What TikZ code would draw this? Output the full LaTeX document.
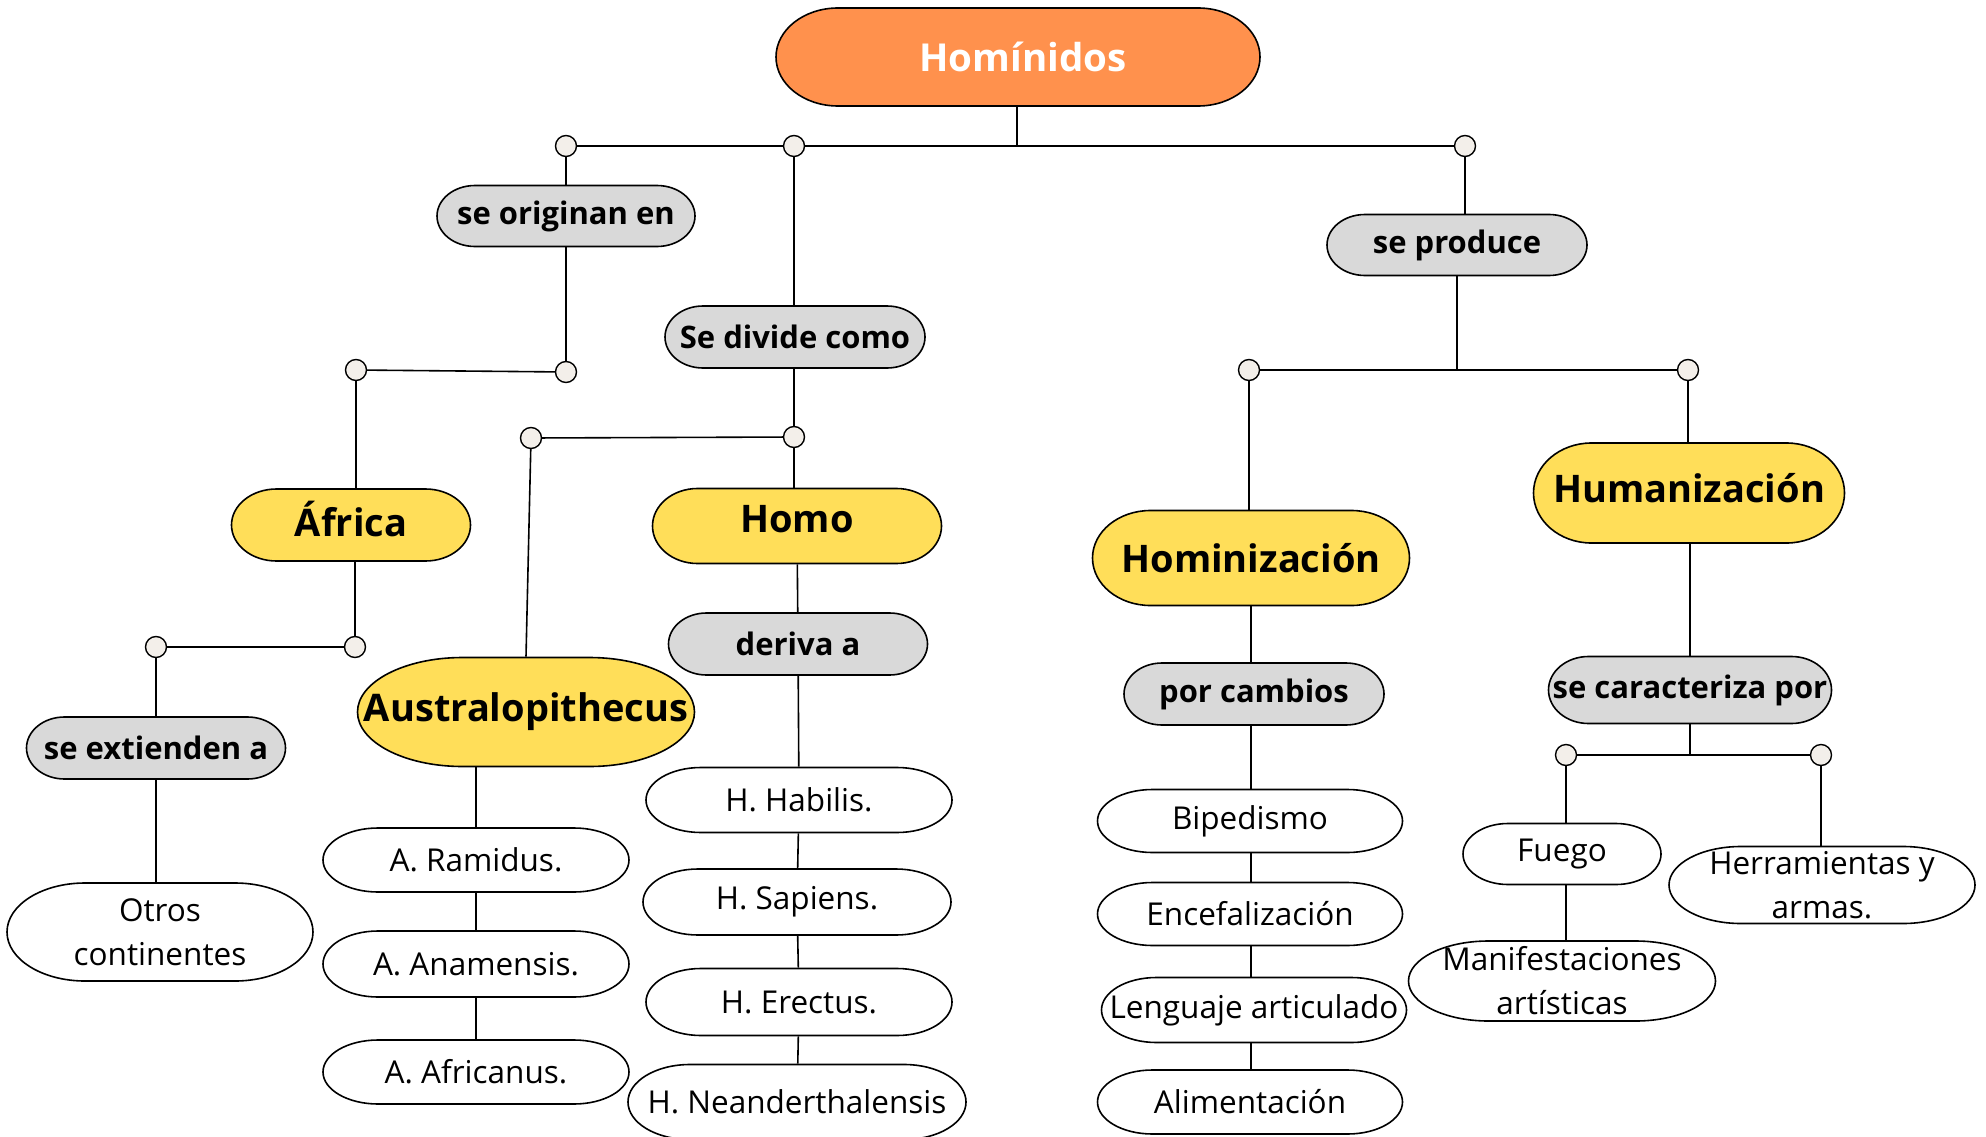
\documentclass[tikz,border=0pt]{standalone}
\usepackage{fontspec}
\setmainfont{Open Sans}
\definecolor{orng}{HTML}{FF914D}
\definecolor{yel}{HTML}{FFDE59}
\definecolor{lgr}{HTML}{D9D9D9}
\definecolor{dotc}{HTML}{F3EFEA}
\tikzset{
  ttl/.style={fill=orng, text=white, font=\fontsize{38.5}{46}\selectfont\bfseries},
  wht/.style={fill=white, font=\fontsize{31.5}{44}\selectfont},
  lab/.style={fill=lgr, font=\fontsize{31}{36}\selectfont\bfseries},
  yl/.style={fill=yel, font=\fontsize{38}{44}\selectfont\bfseries},
  dot/.style={circle, draw, fill=dotc, minimum size=21pt, inner sep=0pt, line width=1.4pt},
  conn/.style={line width=1.6pt}
}
% #1 name, #2 x, #3 y, #4 width, #5 height, #6 end radius, #7 style, #8 text
\newcommand\pillnode[8]{%
  \filldraw[#7] ({#2-#4/2},#3)
    arc[start angle=180,end angle=90,x radius=#6pt,y radius={#5*0.5pt}]
    -- ++({(#4-2*#6)*1pt},0pt)
    arc[start angle=90,end angle=0,x radius=#6pt,y radius={#5*0.5pt}]
    arc[start angle=0,end angle=-90,x radius=#6pt,y radius={#5*0.5pt}]
    -- ++({(2*#6-#4)*1pt},0pt)
    arc[start angle=-90,end angle=-180,x radius=#6pt,y radius={#5*0.5pt}]
    -- cycle;
  \node[#7, draw=none, fill=none, minimum width=#4pt, minimum height=#5pt, inner sep=0pt, align=center] (#1) at (#2,#3) {#8};
}
\begin{document}
\begin{tikzpicture}[x=1pt,y=-1pt,line width=1.6pt]
\useasboundingbox[fill=white] (0,0) rectangle (1986,1137);
% title
\pillnode{hom}{1018}{57}{484}{98}{62}{ttl}{\hspace*{10pt}Homínidos}
\coordinate (t0) at (1017,146);
% dots
\node[dot] (d1) at (566,146) {};
\node[dot] (d2) at (794,146) {};
\node[dot] (d3) at (1465,146) {};
\node[dot] (d4) at (566,372) {};
\node[dot] (d5) at (356,370) {};
\node[dot] (d6) at (355,647) {};
\node[dot] (d7) at (156,647) {};
\node[dot] (d8) at (794,437) {};
\node[dot] (d9) at (531,438) {};
\node[dot] (d10) at (1249,370) {};
\node[dot] (d11) at (1688,370) {};
\node[dot] (d12) at (1566,755) {};
\node[dot] (d13) at (1821,755) {};
% left branch
\pillnode{orig}{566}{216}{258}{61}{38}{lab}{se originan en}
\pillnode{afr}{351}{525}{239}{72}{45}{yl,text depth=12pt}{África}
\pillnode{ext}{156}{748}{259}{62}{38}{lab}{se extienden a}
\pillnode{otros}{160}{932}{306}{98}{78}{wht}{Otros\\continentes}
% middle branch
\pillnode{div}{795}{337}{260}{62}{38}{lab}{Se divide como}
\pillnode{homo}{797}{526}{289}{75}{45}{yl,text depth=14pt}{Homo}
\pillnode{aus}{526}{712}{337}{109}{105}{yl}{Australopithecus}
\pillnode{ram}{476}{860}{306}{64}{55}{wht}{A. Ramidus.}
\pillnode{ana}{476}{964}{306}{66}{55}{wht}{A. Anamensis.}
\pillnode{afc}{476}{1072}{306}{64}{55}{wht}{A. Africanus.}
\pillnode{der}{798}{644}{259}{62}{38}{lab}{deriva a}
\pillnode{hab}{799}{800}{306}{65}{55}{wht}{H. Habilis.}
\pillnode{sap}{797}{902}{308}{66}{55}{wht}{H. Sapiens.}
\pillnode{ere}{799}{1002}{306}{67}{55}{wht}{H. Erectus.}
\pillnode{nea}{797}{1102}{338}{75}{62}{wht}{H. Neanderthalensis}
% right branch
\pillnode{prod}{1457}{245}{260}{61}{38}{lab}{se produce}
\pillnode{homz}{1251}{558}{317}{95}{58}{yl}{Hominización}
\pillnode{camb}{1254}{694}{260}{62}{38}{lab}{por cambios}
\pillnode{bip}{1250}{821}{305}{63}{55}{wht}{Bipedismo}
\pillnode{enc}{1250}{914}{305}{63}{55}{wht}{Encefalización}
\pillnode{len}{1254}{1010}{305}{65}{55}{wht}{Lenguaje articulado}
\pillnode{ali}{1250}{1102}{305}{64}{55}{wht}{Alimentación}
\pillnode{hum}{1689}{493}{311}{100}{58}{yl,text depth=10pt}{Humanización}
\pillnode{car}{1690}{690}{283}{67}{40}{lab}{se caracteriza por}
\pillnode{fue}{1562}{854}{198}{61}{45}{wht}{Fuego}
\pillnode{her}{1822}{885}{306}{77}{72}{wht}{Herramientas y\\armas.}
\pillnode{man}{1562}{981}{307}{80}{80}{wht}{Manifestaciones\\artísticas}
% connectors
\draw[conn] (hom.south -| t0) -- (t0);
\draw[conn] (d1) -- (d2);
\draw[conn] (d2) -- (d3);
\draw[conn] (d1) -- (d1 |- orig.north);
\draw[conn] (d4 |- orig.south) -- (d4);
\draw[conn] (d4) -- (d5);
\draw[conn] (d5) -- (d5 |- afr.north);
\draw[conn] (d6 |- afr.south) -- (d6);
\draw[conn] (d6) -- (d7);
\draw[conn] (d7) -- (d7 |- ext.north);
\draw[conn] (ext.south) -- (ext.south |- otros.north);
\draw[conn] (d2) -- (d2 |- div.north);
\draw[conn] (d8 |- div.south) -- (d8);
\draw[conn] (d8) -- (d9);
\draw[conn] (d8) -- (d8 |- homo.north);
\draw[conn] (d9) -- (aus.north);
\draw[conn] (ram.north |- aus.south) -- (ram.north);
\draw[conn] (ram) -- (ana);
\draw[conn] (ana) -- (afc);
\draw[conn] (homo) -- (der);
\draw[conn] (der) -- (hab);
\draw[conn] (hab) -- (sap);
\draw[conn] (sap) -- (ere);
\draw[conn] (ere) -- (nea);
\draw[conn] (d3) -- (d3 |- prod.north);
\draw[conn] (d10) -- (d11);
\draw[conn] (prod.south) -- (prod.south |- d10);
\draw[conn] (d10) -- (d10 |- homz.north);
\draw[conn] (homz.south) -- (homz.south |- camb.north);
\draw[conn] (homz.south |- camb.south) -- (homz.south |- bip.north);
\draw[conn] (homz.south |- bip.south) -- (homz.south |- enc.north);
\draw[conn] (homz.south |- enc.south) -- (homz.south |- len.north);
\draw[conn] (homz.south |- len.south) -- (homz.south |- ali.north);
\draw[conn] (d11) -- (d11 |- hum.north);
\draw[conn] (hum.south -| car.north) -- (car.north);
\draw[conn] (car.south) -- (car.south |- d12);
\draw[conn] (d12) -- (d13);
\draw[conn] (d12) -- (d12 |- fue.north);
\draw[conn] (d13) -- (d13 |- her.north);
\draw[conn] (d12 |- fue.south) -- (d12 |- man.north);
\end{tikzpicture}
\end{document}
